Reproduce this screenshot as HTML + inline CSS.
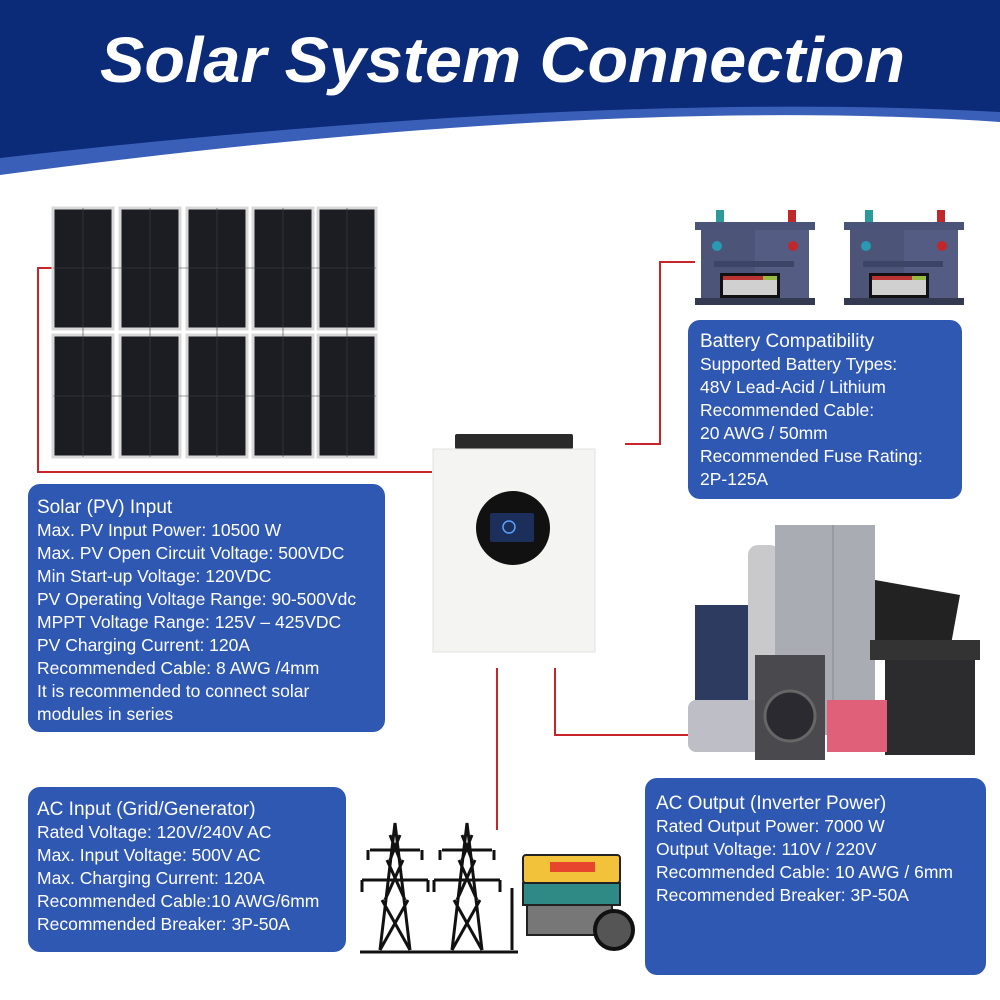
<!DOCTYPE html>
<html><head><meta charset="utf-8"><style>
html,body{margin:0;padding:0;background:#fff}
svg{display:block}
.t{font-family:"Liberation Sans",sans-serif;fill:#fff;font-size:17.5px}
</style></head><body>
<svg width="1000" height="1000" viewBox="0 0 1000 1000" xmlns="http://www.w3.org/2000/svg">
<path d="M0 0H1000V122Q600 95 0 175Z" fill="#3a5fb8"/>
<path d="M0 0H1000V112Q600 90 0 158Z" fill="#0b2a78"/>
<text x="100" y="82" textLength="805" lengthAdjust="spacingAndGlyphs" font-family="Liberation Sans,sans-serif" font-weight="bold" font-style="italic" font-size="64" fill="#fff">Solar System Connection</text>

<g stroke="#c8252b" stroke-width="2" fill="none">
<polyline points="53,268 38,268 38,472 432,472"/>
<polyline points="625,444 660,444 660,262 695,262"/>
<line x1="497" y1="668" x2="497" y2="830"/>
<polyline points="555,668 555,735 690,735"/>
</g>

<g fill="#1b1d22" stroke="#d8d8d8" stroke-width="3">
<rect x="53" y="208" width="60" height="121"/><rect x="120" y="208" width="60" height="121"/><rect x="187" y="208" width="60" height="121"/><rect x="253" y="208" width="60" height="121"/><rect x="318" y="208" width="58" height="121"/>
<rect x="53" y="335" width="60" height="122"/><rect x="120" y="335" width="60" height="122"/><rect x="187" y="335" width="60" height="122"/><rect x="253" y="335" width="60" height="122"/><rect x="318" y="335" width="58" height="122"/>
</g>
<g stroke="#444" stroke-width="0.6">
<line x1="53" y1="268" x2="376" y2="268"/><line x1="53" y1="396" x2="376" y2="396"/>
<line x1="83" y1="208" x2="83" y2="457"/><line x1="150" y1="208" x2="150" y2="457"/><line x1="217" y1="208" x2="217" y2="457"/><line x1="283" y1="208" x2="283" y2="457"/><line x1="347" y1="208" x2="347" y2="457"/>
</g>

<rect x="455" y="434" width="118" height="15" rx="2" fill="#2a2a2a"/>
<rect x="433" y="449" width="162" height="203" fill="#f4f4f2" stroke="#e2e2e2"/>
<circle cx="513" cy="528" r="37" fill="#111"/>
<rect x="490" y="513" width="44" height="29" rx="2" fill="#1c2f5a"/>
<circle cx="509" cy="527" r="6" fill="none" stroke="#5aa0ff" stroke-width="1.5"/>

<g id="bat">
<rect x="716" y="210" width="8" height="12" fill="#2a9a9a"/><rect x="788" y="210" width="8" height="12" fill="#c0282c"/>
<rect x="695" y="222" width="120" height="8" fill="#4a5378"/>
<rect x="701" y="230" width="108" height="70" fill="#4c5478"/>
<rect x="755" y="230" width="54" height="70" fill="#5a638a" opacity="0.6"/>
<rect x="695" y="298" width="120" height="7" fill="#33394f"/>
<circle cx="717" cy="246" r="5" fill="#2a9ab0"/><circle cx="793" cy="246" r="5" fill="#c0282c"/>
<rect x="714" y="261" width="80" height="6" fill="#3d4466"/>
<rect x="720" y="273" width="60" height="25" fill="#111"/><rect x="723" y="276" width="54" height="19" fill="#d0d0d0"/><rect x="723" y="276" width="40" height="4" fill="#b33"/><rect x="763" y="276" width="14" height="4" fill="#9b4"/>
</g>
<use href="#bat" x="149"/>

<rect x="695" y="605" width="60" height="135" fill="#2e3b60"/>
<rect x="748" y="545" width="32" height="200" rx="10" fill="#c9c9cc"/>
<rect x="775" y="525" width="100" height="210" fill="#a9adb3"/>
<line x1="833" y1="525" x2="833" y2="735" stroke="#888"/>
<path d="M875 580L960 595L950 650L875 640Z" fill="#222"/>
<rect x="870" y="640" width="110" height="20" fill="#333"/>
<rect x="885" y="660" width="90" height="95" fill="#2c2c2e"/>
<rect x="688" y="700" width="80" height="52" rx="8" fill="#bebec6"/>
<rect x="755" y="655" width="70" height="105" fill="#4a4a4e"/>
<circle cx="790" cy="716" r="25" fill="#2a2a30" stroke="#666" stroke-width="3"/>
<rect x="827" y="700" width="60" height="52" fill="#e0607a"/>

<g stroke="#111" stroke-width="3" fill="none">
<path d="M360 952H518"/>
<g id="tw"><path d="M380 950L395 823L410 950M380 950L408 900M410 950L382 900M385 900L403 860M405 900L387 860M390 860L400 835M400 860L390 835M370 850H420M362 880H428M368 850V860M422 850V860M362 880V892M428 880V892"/></g>
<use href="#tw" x="72"/>
<path d="M512 888V950"/>
</g>
<rect x="523" y="855" width="97" height="28" rx="3" fill="#f2c33a" stroke="#222" stroke-width="2"/>
<rect x="550" y="862" width="45" height="10" fill="#e8452e"/>
<rect x="523" y="883" width="97" height="22" fill="#2f8a86" stroke="#222" stroke-width="2"/>
<rect x="527" y="905" width="85" height="30" fill="#777" stroke="#222" stroke-width="2"/>
<circle cx="614" cy="930" r="19" fill="#555" stroke="#111" stroke-width="4"/>

<rect x="28" y="484" width="357" height="248" rx="12" fill="#2f58b2"/>
<g class="t">
<text x="37" y="513" font-size="19">Solar (PV) Input</text>
<text x="37" y="536">Max. PV Input Power: 10500 W</text>
<text x="37" y="559">Max. PV Open Circuit Voltage: 500VDC</text>
<text x="37" y="582">Min Start-up Voltage: 120VDC</text>
<text x="37" y="605">PV Operating Voltage Range: 90-500Vdc</text>
<text x="37" y="628">MPPT Voltage Range: 125V – 425VDC</text>
<text x="37" y="651">PV Charging Current: 120A</text>
<text x="37" y="674">Recommended Cable: 8 AWG /4mm</text>
<text x="37" y="697">It is recommended to connect solar</text>
<text x="37" y="720">modules in series</text>
</g>

<rect x="688" y="320" width="274" height="179" rx="12" fill="#2f58b2"/>
<g class="t">
<text x="700" y="347" font-size="19">Battery Compatibility</text>
<text x="700" y="370">Supported Battery Types:</text>
<text x="700" y="393">48V Lead-Acid / Lithium</text>
<text x="700" y="416">Recommended Cable:</text>
<text x="700" y="439">20 AWG / 50mm</text>
<text x="700" y="462">Recommended Fuse Rating:</text>
<text x="700" y="485">2P-125A</text>
</g>

<rect x="28" y="787" width="318" height="165" rx="12" fill="#2f58b2"/>
<g class="t">
<text x="37" y="815" font-size="19">AC Input (Grid/Generator)</text>
<text x="37" y="838">Rated Voltage: 120V/240V AC</text>
<text x="37" y="861">Max. Input Voltage: 500V AC</text>
<text x="37" y="884">Max. Charging Current: 120A</text>
<text x="37" y="907">Recommended Cable:10 AWG/6mm</text>
<text x="37" y="930">Recommended Breaker: 3P-50A</text>
</g>

<rect x="645" y="778" width="341" height="197" rx="12" fill="#2f58b2"/>
<g class="t">
<text x="656" y="809" font-size="19">AC Output (Inverter Power)</text>
<text x="656" y="832">Rated Output Power: 7000 W</text>
<text x="656" y="855">Output Voltage: 110V / 220V</text>
<text x="656" y="878">Recommended Cable: 10 AWG / 6mm</text>
<text x="656" y="901">Recommended Breaker: 3P-50A</text>
</g>
</svg>
</body></html>
